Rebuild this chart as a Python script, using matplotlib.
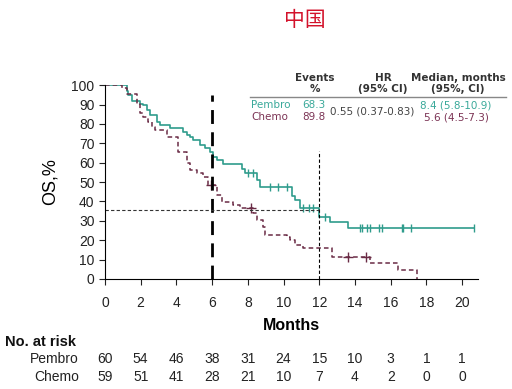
import numpy as np
import matplotlib
matplotlib.use('Agg')
import matplotlib.pyplot as plt

plt.rcParams['font.family'] = ['Liberation Sans', 'DejaVu Sans']

# Kaplan-Meier steps
pembro_t = [0, 1.21, 1.3, 1.49, 1.96, 2.15, 2.33, 2.52, 2.9, 3.08, 3.64, 4.39, 4.57, 4.76,
            4.95, 5.32, 5.6, 5.88, 6.07, 6.26, 6.63, 7.66, 7.84, 8.5, 8.68, 10.46, 10.65,
            10.9, 12.0, 12.6, 13.6, 20.67]
pembro_s = [100, 97, 95, 92, 90.5, 89.7, 87, 84.5, 81, 79.4, 77.7, 76, 74.2, 73.4,
            71.6, 69, 67.4, 65.6, 63, 61.3, 59.3, 56.5, 54.6, 51, 47.5, 43, 40.7,
            36.4, 32, 29.2, 26.5, 26.5]
pembro_cens = [8.0, 8.3, 9.24, 9.7, 10.2, 11.1, 11.4, 11.67, 12.3, 14.3, 14.4, 14.7, 14.85,
               15.35, 15.53, 16.62, 16.71, 17.13, 20.67]

chemo_t = [0, 0.93, 1.21, 1.77, 1.96, 2.15, 2.43, 2.61, 2.8, 3.45, 4.1, 4.57, 4.76, 5.13,
           5.5, 5.79, 6.26, 6.53, 7.19, 7.56, 8.31, 8.5, 8.87, 8.96, 10.18, 10.37, 10.64,
           11.1, 12.7, 14.85, 16.43, 17.46]
chemo_s = [100, 98.3, 95.7, 90.5, 85.4, 83.7, 81, 78.5, 76.8, 73.4, 65.6, 59.6, 56.2, 54.5,
           52.7, 48.4, 43.3, 39.8, 38.1, 36.4, 33.9, 30.4, 27, 22.7, 21.8, 20, 17.5,
           15.8, 11.5, 8.1, 4.6, 0]
chemo_cens = [5.95, 8.2, 13.6, 14.6]

months = [0, 2, 4, 6, 8, 10, 12, 14, 16, 18, 20]
risk_pembro = [60, 54, 46, 38, 31, 24, 15, 10, 3, 1, 1]
risk_chemo = [59, 51, 41, 28, 21, 10, 7, 4, 2, 0, 0]

teal = '#2f9c8c'
maroon = '#6a2b45'
teal_txt = '#3aa99a'
maroon_txt = '#7c3455'

fig = plt.figure(figsize=(5.12, 3.89), dpi=100)
ax = fig.add_axes([0.205, 0.283, 0.729, 0.498])


def step_val(ts, ss, x):
    i = np.searchsorted(ts, x, side='right') - 1
    return np.array(ss)[i]


ax.step(pembro_t, pembro_s, where='post', color=teal, lw=1.2)
ax.plot(pembro_cens, step_val(pembro_t, pembro_s, pembro_cens), ls='none',
        marker='|', ms=6, mew=1.0, color=teal)
ax.step(chemo_t, chemo_s, where='post', color=maroon, lw=1.1, dashes=(3, 2))
ax.plot(chemo_cens, step_val(chemo_t, chemo_s, chemo_cens), ls='none',
        marker='+', ms=7, mew=1.0, color=maroon)

# reference lines
ax.plot([6, 6], [0, 95], color='black', lw=2, dashes=(5, 3))
ax.plot([12, 12], [0, 66], color='black', lw=0.8, dashes=(3, 2))
ax.plot([0, 12], [35.5, 35.5], color='#333333', lw=0.8, dashes=(3, 2))

ax.set_xlim(0, 20.9)
ax.set_ylim(0, 100)
ax.set_xticks(months)
ax.set_yticks(range(0, 101, 10))
ax.tick_params(labelsize=10, length=4, colors='#222222')
ax.tick_params(axis='x', pad=8)
ax.spines['top'].set_visible(False)
ax.spines['right'].set_visible(False)
ax.set_ylabel('OS,%', fontsize=13, labelpad=9)
ax.set_xlabel('Months', fontsize=11.5, fontweight='bold', labelpad=6)

# summary table
fs = 7.5
tf = ['DejaVu Sans']
hy = 1 - 83.5 / 389
fig.text(315 / 512, hy, 'Events\n%', ha='center', va='center', family=tf,
         fontsize=fs, fontweight='bold', color='#333333', linespacing=1.05)
fig.text(383 / 512, hy, 'HR\n(95% CI)', ha='center', va='center', family=tf,
         fontsize=fs, fontweight='bold', color='#333333', linespacing=1.05)
fig.text(458 / 512, hy, 'Median, months\n(95%, CI)', ha='center', va='center', family=tf,
         fontsize=fs, fontweight='bold', color='#333333', linespacing=1.05)
fig.add_artist(plt.Line2D([250 / 512, 506 / 512], [1 - 97 / 389, 1 - 97 / 389],
                          color='#888888', lw=1))
fig.text(251 / 512, 1 - 105 / 389, 'Pembro', ha='left', va='center', family=tf, fontsize=fs, color=teal_txt)
fig.text(251 / 512, 1 - 117 / 389, 'Chemo', ha='left', va='center', family=tf, fontsize=fs, color=maroon_txt)
fig.text(314 / 512, 1 - 105 / 389, '68.3', ha='center', va='center', family=tf, fontsize=fs, color=teal_txt)
fig.text(314 / 512, 1 - 117 / 389, '89.8', ha='center', va='center', family=tf, fontsize=fs, color=maroon_txt)
fig.text(372.5 / 512, 1 - 111 / 389, '0.55 (0.37-0.83)', ha='center', va='center', family=tf,
         fontsize=fs, color='#444444')
fig.text(456 / 512, 1 - 105.5 / 389, '8.4 (5.8-10.9)', ha='center', va='center', family=tf, fontsize=fs, color=teal_txt)
fig.text(456 / 512, 1 - 118 / 389, '5.6 (4.5-7.3)', ha='center', va='center', family=tf, fontsize=fs, color=maroon_txt)

# title
fig.text(305 / 512, 1 - 20 / 389, '中国', ha='center', va='center', fontsize=15,
         color='#d3122b', family=['Noto Sans CJK SC', 'DejaVu Sans'])

# number at risk
fig.text(5 / 512, 1 - 342 / 389, 'No. at risk', ha='left', va='center', fontsize=10.5,
         fontweight='bold', color='#111111')
fig.text(79 / 512, 1 - 359 / 389, 'Pembro', ha='right', va='center', fontsize=10, color='#222222')
fig.text(79 / 512, 1 - 377 / 389, 'Chemo', ha='right', va='center', fontsize=10, color='#222222')
for m, p, c in zip(months, risk_pembro, risk_chemo):
    xf = ax.transData.transform((m, 0))[0] / fig.bbox.width
    fig.text(xf, 1 - 359 / 389, str(p), ha='center', va='center', fontsize=10, color='#222222')
    fig.text(xf, 1 - 377 / 389, str(c), ha='center', va='center', fontsize=10, color='#222222')

fig.savefig('out.png', dpi=100)
